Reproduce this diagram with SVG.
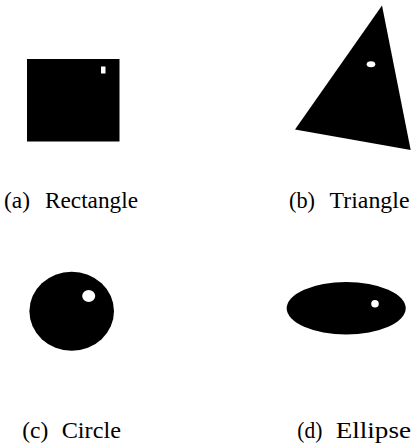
<svg xmlns="http://www.w3.org/2000/svg" width="411" height="447" viewBox="0 0 411 447">
<style>
.shape{fill:#000}
.hole{fill:#fff}
.lbl{font-family:'Liberation Serif', 'Times New Roman', Times, serif;font-size:23px;fill:#000}
</style>
<rect x="0" y="0" width="411" height="447" fill="#fff"/>
<g id="rectangle">
<rect class="shape" x="27" y="59" width="92.5" height="82.5"/>
<rect class="hole" x="101" y="66.5" width="4.5" height="7"/>
<text class="lbl" x="4" y="207.5" textLength="26" lengthAdjust="spacingAndGlyphs">(a)</text>
<text class="lbl" x="45" y="207.5" textLength="93" lengthAdjust="spacingAndGlyphs">Rectangle</text>
</g>
<g id="triangle">
<polygon class="shape" points="382,5.5 295,129.5 410.7,150"/>
<ellipse class="hole" cx="371" cy="64.3" rx="4.3" ry="3"/>
<text class="lbl" x="289" y="207.5" textLength="26" lengthAdjust="spacingAndGlyphs">(b)</text>
<text class="lbl" x="329.5" y="207.5" textLength="80" lengthAdjust="spacingAndGlyphs">Triangle</text>
</g>
<g id="circle">
<ellipse class="shape" cx="71.7" cy="311.2" rx="42.3" ry="39.5"/>
<ellipse class="hole" cx="88.7" cy="296" rx="6.5" ry="6"/>
<text class="lbl" x="22.3" y="437.7" textLength="26" lengthAdjust="spacingAndGlyphs">(c)</text>
<text class="lbl" x="61.7" y="437.7" textLength="59.3" lengthAdjust="spacingAndGlyphs">Circle</text>
</g>
<g id="ellipse">
<ellipse class="shape" cx="346.2" cy="308.2" rx="59.5" ry="26.2"/>
<circle class="hole" cx="375" cy="303.7" r="3.8"/>
<text class="lbl" x="297.3" y="437.7" textLength="25" lengthAdjust="spacingAndGlyphs">(d)</text>
<text class="lbl" x="335.7" y="437.7" textLength="75.3" lengthAdjust="spacingAndGlyphs">Ellipse</text>
</g>
<g id="connectors"/>
</svg>
